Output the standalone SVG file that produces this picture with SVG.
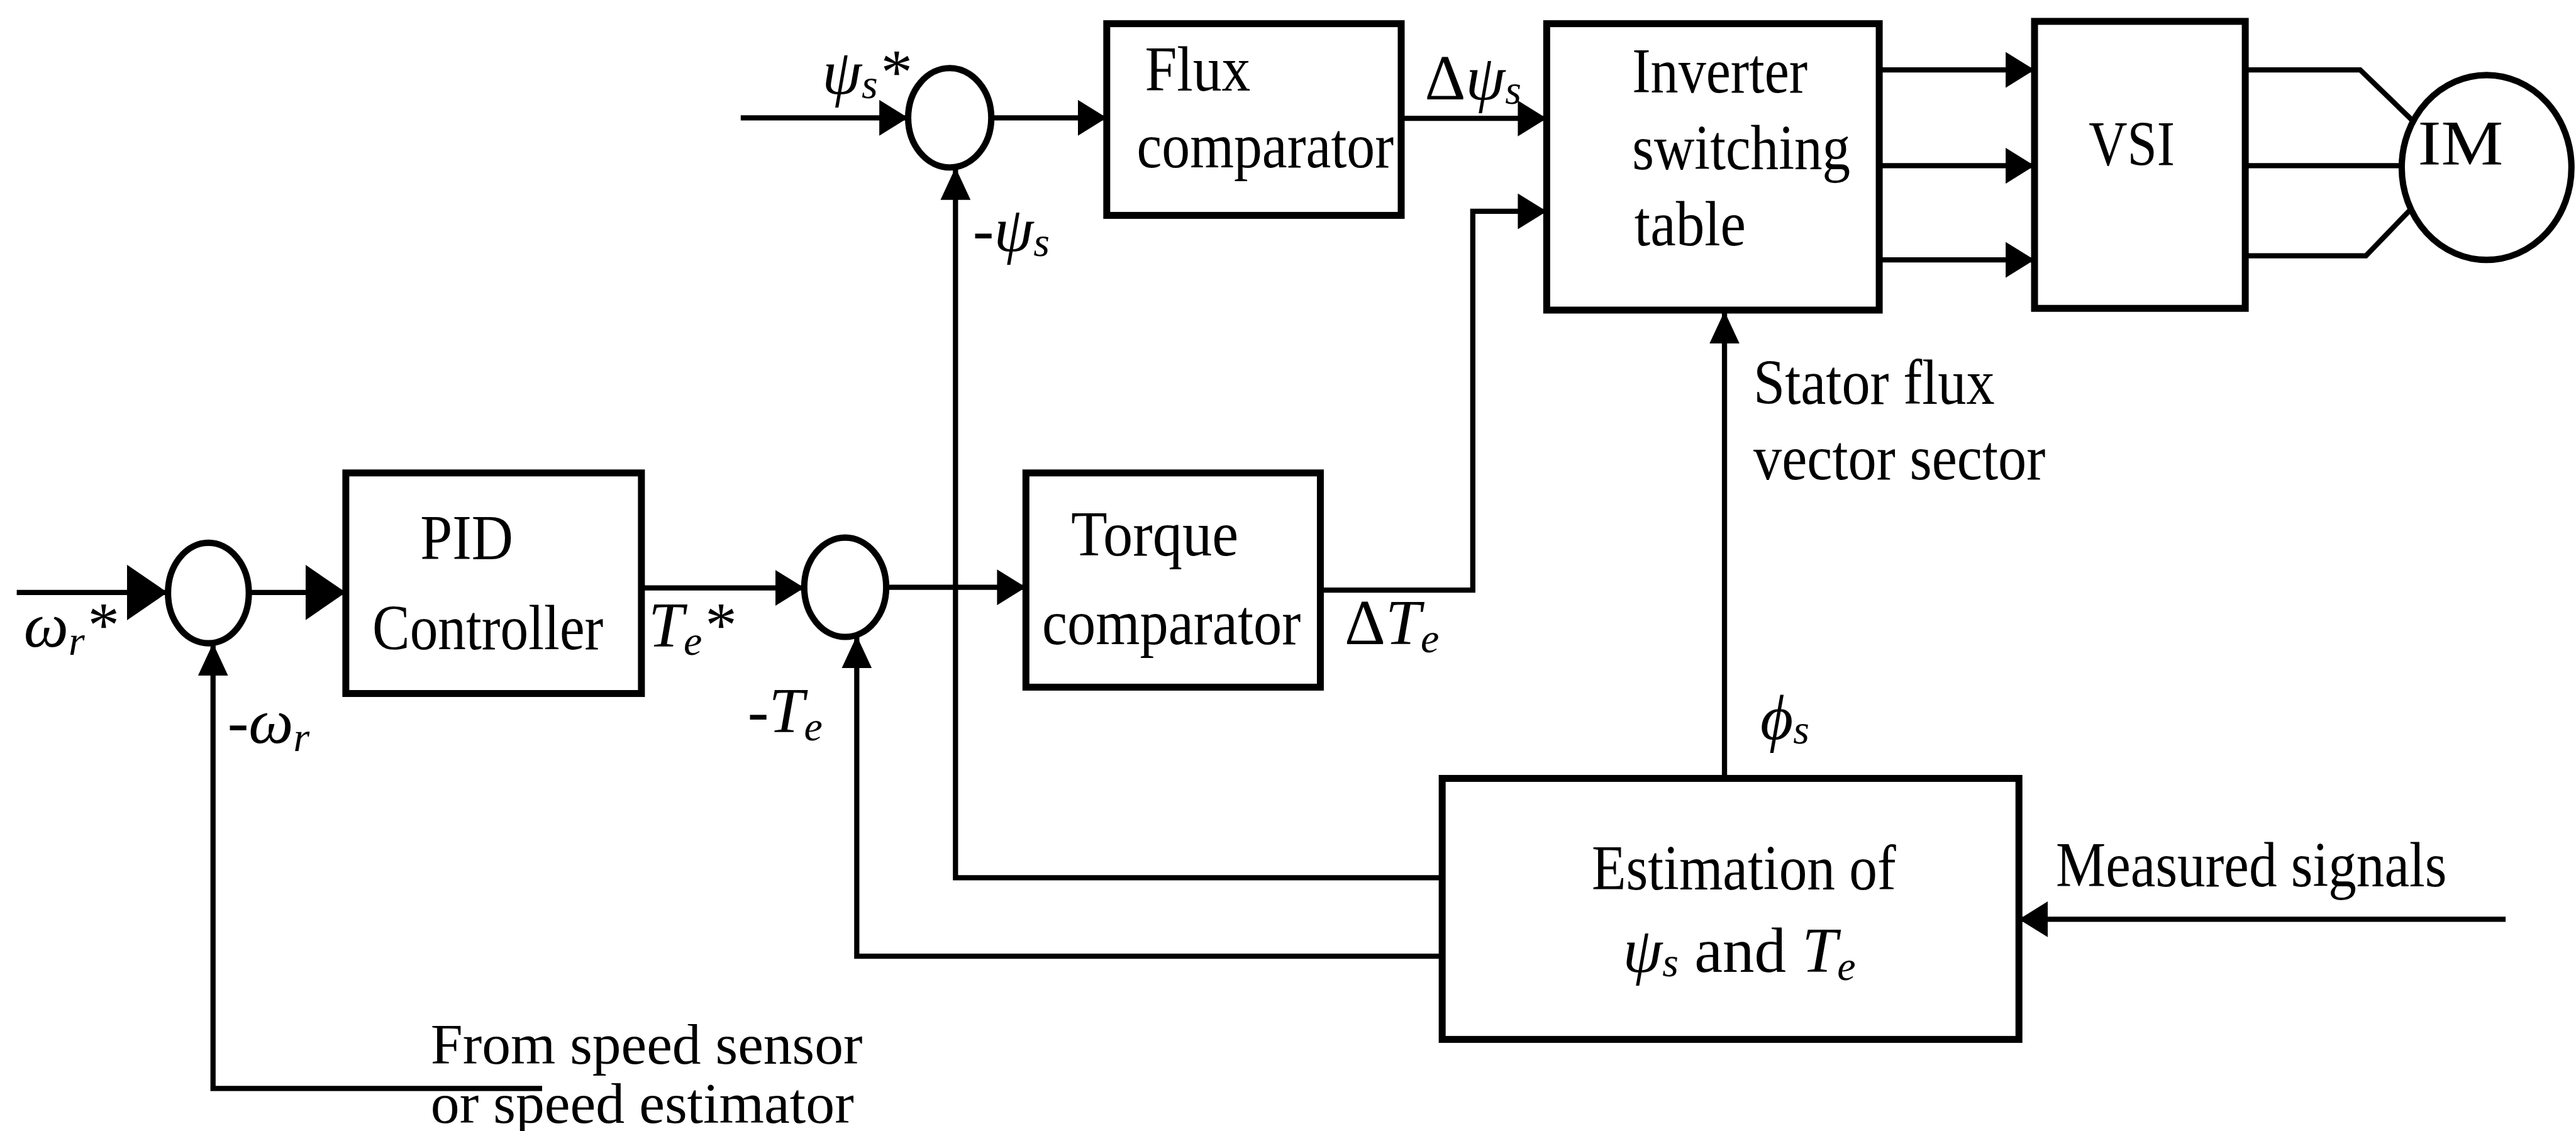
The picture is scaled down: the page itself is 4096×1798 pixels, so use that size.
<svg xmlns="http://www.w3.org/2000/svg" width="4096" height="1798" viewBox="0 0 4096 1798">
<style>
.t{font-family:"Liberation Serif","Times New Roman",serif;font-size:110px;fill:#000}
.s{font-size:98px}
.m{font-family:"Liberation Serif","Times New Roman",serif;font-size:110px;font-style:italic;fill:#000}
.sub{font-size:72px}
.up{font-style:normal}
.box{fill:#fff;stroke:#000;stroke-width:12}
.sum{fill:#fff;stroke:#000;stroke-width:11}
.ln{fill:none;stroke:#000;stroke-width:9}
</style>
<defs>
<marker id="big" viewBox="0 0 70 96" refX="70" refY="48" markerWidth="70" markerHeight="96" markerUnits="userSpaceOnUse" orient="auto"><path d="M0,0 L70,48 L0,96 z" fill="#000"/></marker>
<marker id="med" viewBox="0 0 50 62" refX="50" refY="31" markerWidth="50" markerHeight="62" markerUnits="userSpaceOnUse" orient="auto"><path d="M0,0 L50,31 L0,62 z" fill="#000"/></marker>
<marker id="sm" viewBox="0 0 56 52" refX="56" refY="26" markerWidth="56" markerHeight="52" markerUnits="userSpaceOnUse" orient="auto"><path d="M0,0 L56,26 L0,52 z" fill="#000"/></marker>
</defs>
<rect width="4096" height="1798" fill="#fff"/>
<g transform="scale(0.918)">
<g id="connectors">
<path class="ln" d="M29,1026 H290" marker-end="url(#big)"/>
<path class="ln" d="M431,1026 H599" marker-end="url(#big)"/>
<path class="ln" d="M1111,1018 H1393" marker-end="url(#med)"/>
<path class="ln" d="M1535,1017 H1777" marker-end="url(#med)"/>
<path class="ln" d="M2287,1022 H2551 V366 H2679" marker-end="url(#med)"/>
<path class="ln" d="M1283,204 H1573" marker-end="url(#med)"/>
<path class="ln" d="M1717,204 H1917" marker-end="url(#med)"/>
<path class="ln" d="M2427,205 H2679" marker-end="url(#med)"/>
<path class="ln" d="M3255,121 H3524" marker-end="url(#med)"/>
<path class="ln" d="M3255,287 H3524" marker-end="url(#med)"/>
<path class="ln" d="M3255,450 H3524" marker-end="url(#med)"/>
<path class="ln" d="M3889,121 H4088 L4178,208"/>
<path class="ln" d="M3889,287 H4161"/>
<path class="ln" d="M3889,443 H4098 L4176,362"/>
<path class="ln" d="M2987,1348 V539" marker-end="url(#sm)"/>
<path class="ln" d="M4340,1592 H3497" marker-end="url(#med)"/>
<path class="ln" d="M2498,1520 H1655 V290" marker-end="url(#sm)"/>
<path class="ln" d="M2498,1656 H1484 V1101" marker-end="url(#sm)"/>
<path class="ln" d="M939,1885 H369 V1114" marker-end="url(#sm)"/>
</g>
<g id="sum1"><ellipse class="sum" cx="361" cy="1027" rx="70" ry="87"/></g>
<g id="sum2"><ellipse class="sum" cx="1464" cy="1017" rx="71" ry="86"/></g>
<g id="sum3"><ellipse class="sum" cx="1645" cy="204" rx="72" ry="86"/></g>
<g id="pid"><rect class="box" x="599" y="819" width="512" height="382"/>
<text class="t" x="728" y="968" textLength="161" lengthAdjust="spacingAndGlyphs">PID</text>
<text class="t" x="645" y="1124" textLength="400" lengthAdjust="spacingAndGlyphs">Controller</text></g>
<g id="fluxcomp"><rect class="box" x="1917" y="41" width="510" height="332"/>
<text class="t" x="1983" y="157" textLength="183" lengthAdjust="spacingAndGlyphs">Flux</text>
<text class="t" x="1969" y="290" textLength="445" lengthAdjust="spacingAndGlyphs">comparator</text></g>
<g id="torquecomp"><rect class="box" x="1777" y="819" width="510" height="371"/>
<text class="t" x="1855" y="962" textLength="290" lengthAdjust="spacingAndGlyphs">Torque</text>
<text class="t" x="1805" y="1115" textLength="448" lengthAdjust="spacingAndGlyphs">comparator</text></g>
<g id="inverter"><rect class="box" x="2679" y="41" width="576" height="496"/>
<text class="t" x="2827" y="160" textLength="304" lengthAdjust="spacingAndGlyphs">Inverter</text>
<text class="t" x="2827" y="293" textLength="378" lengthAdjust="spacingAndGlyphs">switching</text>
<text class="t" x="2831" y="425" textLength="193" lengthAdjust="spacingAndGlyphs">table</text></g>
<g id="vsi"><rect class="box" x="3524" y="37" width="365" height="497"/>
<text class="t" x="3618" y="287" textLength="149" lengthAdjust="spacingAndGlyphs">VSI</text></g>
<g id="im"><ellipse class="sum" cx="4307" cy="290" rx="147" ry="160"/>
<text class="t" x="4188" y="285" textLength="148" lengthAdjust="spacingAndGlyphs">IM</text></g>
<g id="estimation"><rect class="box" x="2498" y="1348" width="999" height="452"/>
<text class="t" x="2757" y="1540" textLength="527" lengthAdjust="spacingAndGlyphs">Estimation of</text>
<text class="m" x="2811" y="1683">ψ<tspan class="sub" dy="8">s</tspan><tspan class="up" dy="-8"> and </tspan>T<tspan class="sub" dy="14">e</tspan></text></g>
<g id="labels">
<text class="m" x="41" y="1120">ω<tspan class="sub" dy="14">r</tspan><tspan dy="-14">*</tspan></text>
<text class="m" x="394" y="1287">-ω<tspan class="sub" dy="14">r</tspan></text>
<text class="m" x="1123" y="1120">T<tspan class="sub" dy="14">e</tspan><tspan dy="-14">*</tspan></text>
<text class="m" x="1295" y="1268">-T<tspan class="sub" dy="14">e</tspan></text>
<text class="m" x="1424" y="162">ψ<tspan class="sub" dy="8">s</tspan><tspan dy="-8">*</tspan></text>
<text class="m" x="1685" y="435">-ψ<tspan class="sub" dy="8">s</tspan></text>
<text class="m" x="2468" y="172"><tspan class="up">Δ</tspan>ψ<tspan class="sub" dy="8">s</tspan></text>
<text class="m" x="2329" y="1116"><tspan class="up">Δ</tspan>T<tspan class="sub" dy="14">e</tspan></text>
<text class="m" x="3049" y="1280">ϕ<tspan class="sub" dy="8">s</tspan></text>
<text class="t" x="3037" y="699" textLength="418" lengthAdjust="spacingAndGlyphs">Stator flux</text>
<text class="t" x="3037" y="830" textLength="506" lengthAdjust="spacingAndGlyphs">vector sector</text>
<text class="t" x="3561" y="1535" textLength="677" lengthAdjust="spacingAndGlyphs">Measured signals</text>
<text class="t s" x="746" y="1842" textLength="748" lengthAdjust="spacingAndGlyphs">From speed sensor</text>
<text class="t s" x="746" y="1944" textLength="733" lengthAdjust="spacingAndGlyphs">or speed estimator</text>
</g>
</g>
</svg>
